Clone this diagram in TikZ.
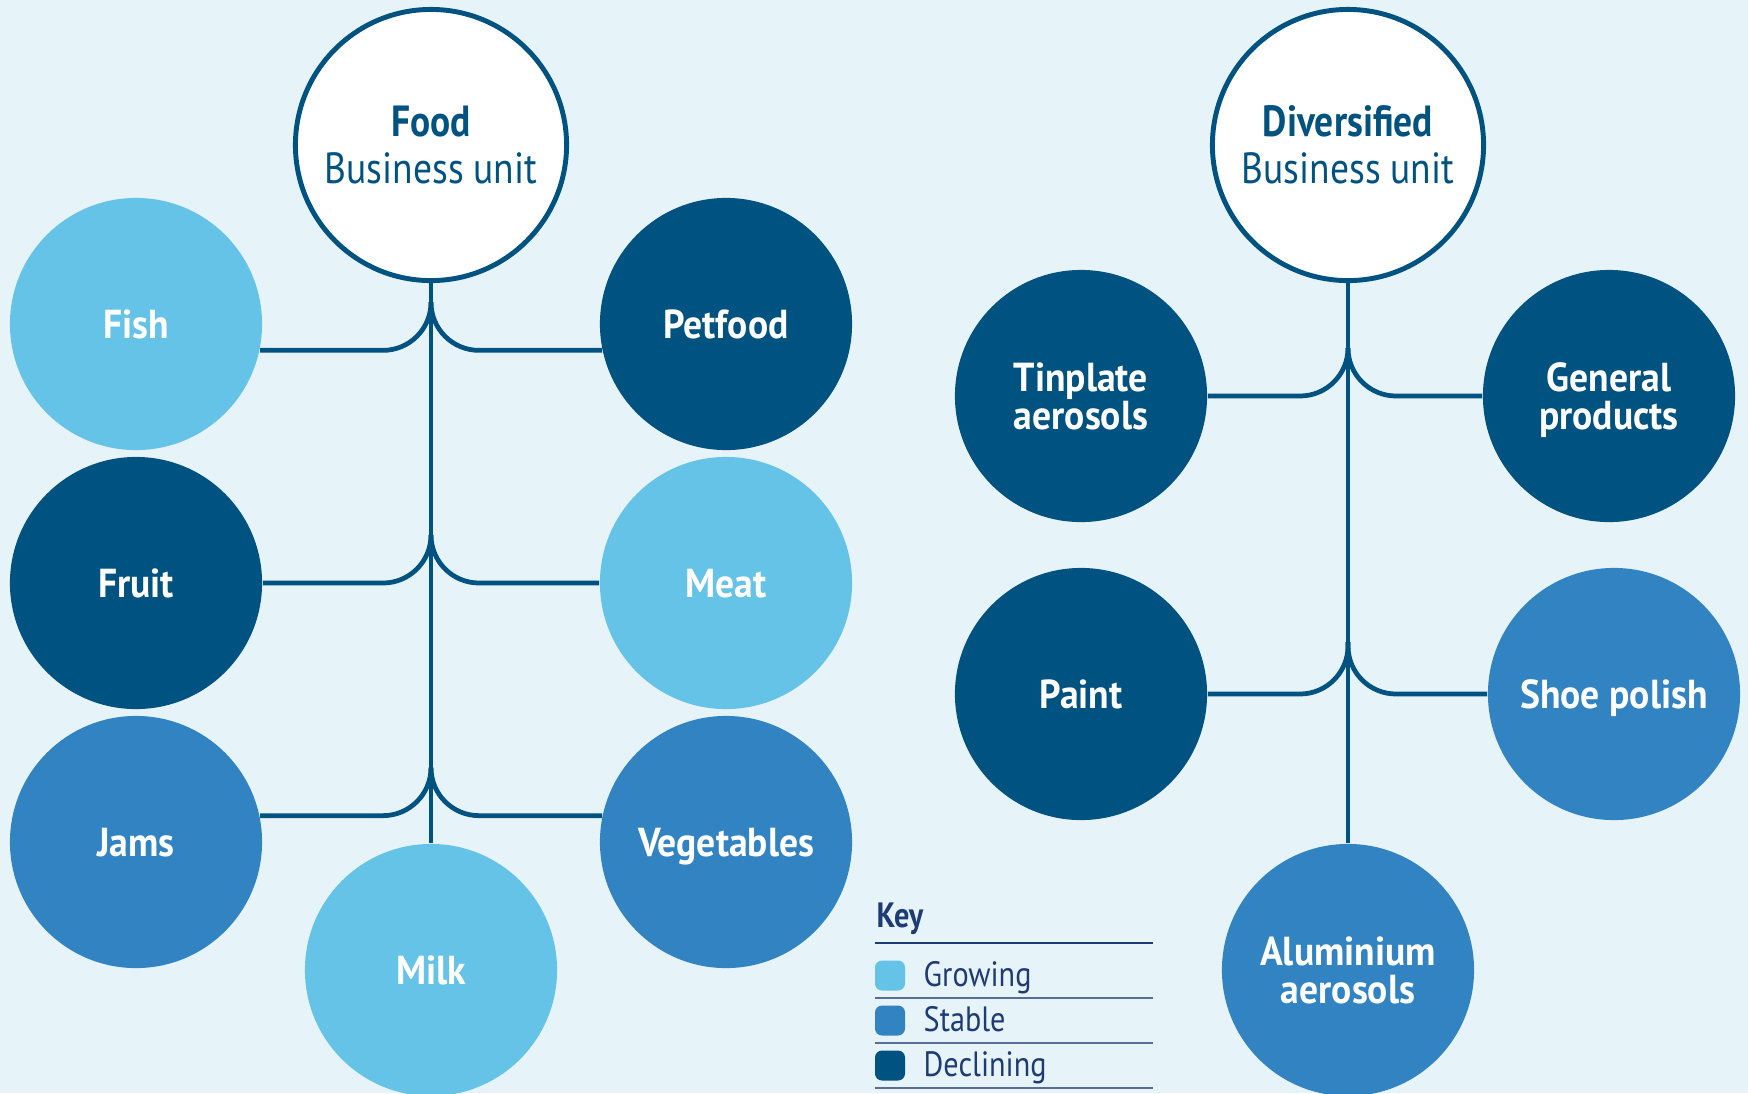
\documentclass[tikz,border=0pt]{standalone}
\usepackage{fontspec}
\setmainfont[FakeStretch=0.86]{PT Sans}
\newfontfamily\labelfont[FakeStretch=0.93]{PT Sans}
\usepackage{tikz}
\definecolor{ColBg}{RGB}{230,244,249}
\definecolor{ColDark}{RGB}{0,82,128}
\definecolor{ColMid}{RGB}{50,131,194}
\definecolor{ColLight}{RGB}{100,195,231}
\definecolor{ColKey}{RGB}{31,59,115}
\tikzstyle{UnitNode}=[circle,draw=ColDark,fill=white,line width=1.4pt,minimum size=2.71cm,
inner sep=0pt,align=center,text=ColDark,font=\fontsize{12.4}{13.3}\selectfont]
\tikzstyle{ProdNode}=[circle,minimum size=2.52cm,inner sep=0pt,align=center,text=white,
text depth=0pt,font=\labelfont\bfseries\fontsize{11.5}{10.8}\selectfont]
\tikzstyle{NodeGrow}=[ProdNode,fill=ColLight]
\tikzstyle{NodeStable}=[ProdNode,fill=ColMid]
\tikzstyle{NodeDecl}=[ProdNode,fill=ColDark]
\tikzstyle{EdgeTrunk}=[ColDark,line width=1.35pt]
\tikzstyle{EdgeBranch}=[EdgeTrunk,rounded corners=0.48cm]
\tikzstyle{KeyBox}=[rounded corners=0.07cm,minimum size=0.3cm,inner sep=0pt]
\tikzstyle{KeyText}=[anchor=base west,text=ColKey,inner sep=0pt,font=\fontsize{10}{12}\selectfont]
\tikzstyle{KeyRule}=[ColKey!75,line width=0.35pt]

\begin{document}
\begin{tikzpicture}[x=0.01cm,y=-0.01cm]
        \fill[ColBg](0,0)rectangle(1748,1093);
        \useasboundingbox(0,0)rectangle(1748,1093);
        % food business unit
        \node[UnitNode](food)at(431,145){\textbf{Food}\\Business unit};
        \node[NodeGrow](fish)at(136,324){Fish};
        \node[NodeDecl](petfood)at(726,324){Petfood};
        \node[NodeDecl](fruit)at(136,583){Fruit};
        \node[NodeGrow](meat)at(726,583){Meat};
        \node[NodeStable](jams)at(136,842){Jams};
        \node[NodeStable](veg)at(726,842){Vegetables};
        \node[NodeGrow](milk)at(431,970){Milk};
        \coordinate(fa)at(431,302);
        \coordinate(fb)at(431,535);
        \coordinate(fc)at(431,768);
        \draw[EdgeTrunk](food)--(milk);
        \draw[EdgeBranch](fa)|-(fish.-12);
        \draw[EdgeBranch](fa)|-(petfood.192);
        \draw[EdgeBranch](fb)|-(fruit);
        \draw[EdgeBranch](fb)|-(meat);
        \draw[EdgeBranch](fc)|-(jams.12);
        \draw[EdgeBranch](fc)|-(veg.168);
        % diversified business unit
        \node[UnitNode](div)at(1348,145){\textbf{Diversified}\\Business unit};
        \node[NodeDecl](tinplate)at(1081,396){Tinplate\\aerosols};
        \node[NodeDecl](general)at(1609,396){General\\products};
        \node[NodeDecl](paint)at(1081,694){Paint};
        \node[NodeStable](shoe)at(1614,694){Shoe polish};
        \node[NodeStable](alu)at(1348,970){Aluminium\\aerosols};
        \coordinate(da)at(1348,348);
        \coordinate(db)at(1348,642);
        \draw[EdgeTrunk](div)--(alu);
        \draw[EdgeBranch](da)|-(tinplate);
        \draw[EdgeBranch](da)|-(general);
        \draw[EdgeBranch](db)|-(paint);
        \draw[EdgeBranch](db)|-(shoe);
        % key
        \node[KeyText,font=\bfseries\fontsize{10}{12}\selectfont](key)at(876,927){Key};
        \draw[ColKey,line width=0.6pt](875,943)--(1153,943);
        \node[KeyBox,fill=ColLight](kgrow)at(890,975.5){};
        \node[KeyText](tgrow)at(923,986){Growing};
        \draw[KeyRule](875,998)--(1153,998);
        \node[KeyBox,fill=ColMid](kstable)at(890,1020.5){};
        \node[KeyText](tstable)at(923,1031){Stable};
        \draw[KeyRule](875,1043)--(1153,1043);
        \node[KeyBox,fill=ColDark](kdecl)at(890,1065.5){};
        \node[KeyText](tdecl)at(923,1076){Declining};
        \draw[KeyRule](875,1088)--(1153,1088);
    \end{tikzpicture}
\end{document}
